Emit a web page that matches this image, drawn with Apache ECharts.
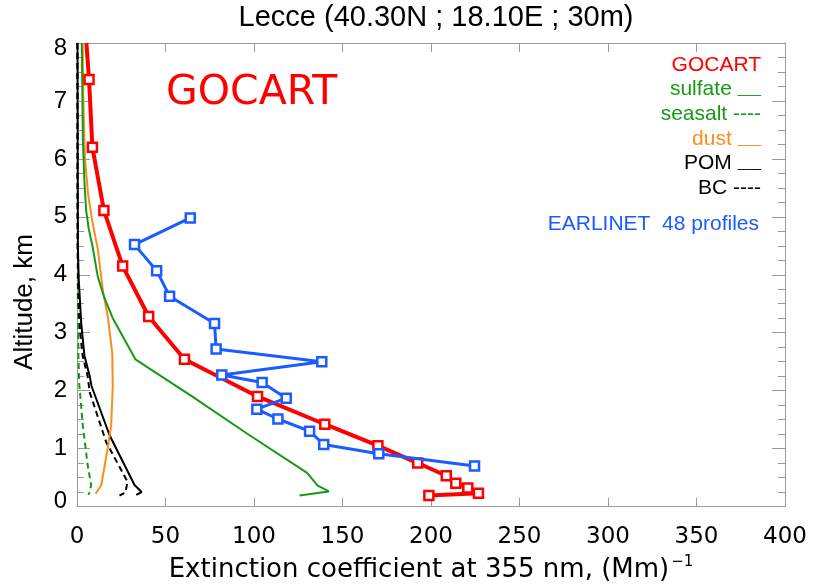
<!DOCTYPE html>
<html>
<head>
<meta charset="utf-8">
<script src="https://cdn.jsdelivr.net/npm/echarts/dist/echarts.min.js"></script>
<style>
  html, body { margin: 0; padding: 0; background: #fff; }
  #chart { width: 814px; height: 588px; }
</style>
</head>
<body>
<div id="chart"></div>
<script>
// Extinction profiles over Lecce: GOCART model (total + components) vs EARLINET mean profile.
// Altitudes in km, extinction in Mm^-1.

const xTicks = [0, 50, 100, 150, 200, 250, 300, 350, 400];
const yTicks = [0, 1, 2, 3, 4, 5, 6, 7, 8];

const gocartAlt = [8.0, 7.37, 6.2, 5.11, 4.15, 3.28, 2.54, 1.9, 1.42, 1.05, 0.75, 0.53, 0.40, 0.32, 0.23, 0.19];
const gocartExt = [5.3, 6.8, 8.7, 15.2, 25.8, 40.5, 60.7, 102, 140, 170, 192.5, 208.6, 214, 220.8, 226.8, 198.8];

const earlinetAlt = [4.98, 4.52, 4.07, 3.63, 3.16, 2.72, 2.50, 2.27, 2.14, 1.87, 1.68, 1.51, 1.30, 1.07, 0.91, 0.70];
const earlinetExt = [64, 32.5, 45, 52.3, 77.7, 78.6, 138.3, 81.8, 104.6, 118.2, 101.6, 113.5, 131.4, 139.4, 170.5, 224.6];

const sulfateAlt = [8.0, 7.2, 6.35, 5.6, 5.1, 4.8, 4.47, 3.96, 3.6, 3.25, 2.54, 1.9, 1.26, 0.58, 0.36, 0.26, 0.19];
const sulfateExt = [2.7, 3.0, 3.3, 4.2, 5.2, 6.6, 8.9, 11.8, 15.5, 20.2, 33, 65, 96, 130, 136, 142.3, 125.7];

const seasaltAlt = [8.0, 5.0, 3.5, 2.6, 2.1, 1.4, 0.72, 0.37, 0.24, 0.2];
const seasaltExt = [0.2, 0.3, 0.5, 0.8, 1.3, 3.3, 6.0, 8.0, 7.0, 6.4];

const dustAlt = [8.0, 7.0, 6.06, 5.4, 4.93, 4.45, 3.73, 3.28, 2.65, 2.08, 1.4, 1.0, 0.37, 0.22];
const dustExt = [3.2, 3.6, 4.4, 6.2, 8.6, 11.7, 14.6, 17.4, 19.9, 20.2, 19.3, 17.3, 13.7, 10.5];

const pomAlt = [8.0, 6.0, 4.47, 3.9, 3.16, 2.6, 2.25, 2.08, 1.23, 0.37, 0.25, 0.2];
const pomExt = [0.3, 0.4, 0.5, 1.0, 2.4, 4.2, 7.2, 8.2, 18.4, 32.5, 36.5, 33.5];

const bcAlt = [8.0, 6.0, 4.5, 3.6, 3.0, 2.6, 2.25, 1.97, 1.11, 0.43, 0.24, 0.19];
const bcExt = [0.2, 0.3, 0.4, 0.8, 1.8, 3.2, 6.0, 7.2, 16.5, 28.5, 27.4, 24];

// legend rows: label, line sample, colour
const legendLines = [
  { label: 'GOCART', sample: '', color: '#ff0000' },
  { label: 'sulfate', sample: '___', color: '#169a16' },
  { label: 'seasalt', sample: '----', color: '#169a16' },
  { label: 'dust', sample: '___', color: '#ff8a1c' },
  { label: 'POM', sample: '___', color: '#000000' },
  { label: 'BC', sample: '----', color: '#000000' }
];

const RED = '#ff0000', GREEN = '#169a16', ORANGE = '#ff8a1c', BLUE = '#1a5cff', AXIS = '#9a9a9a';
const FONT = 'Liberation Sans, Arial, sans-serif';
const FONT2 = 'DejaVu Sans, sans-serif';

function pairs(xs, ys) { return xs.map((x, i) => [x, ys[i]]); }

function plainLine(name, xs, ys, color, width, dashed) {
  return {
    name: name, type: 'line', data: pairs(xs, ys), symbol: 'none', smooth: false,
    lineStyle: { color: color, width: width, type: dashed ? [6, 4] : 'solid' },
    animation: false, z: 2
  };
}

const gocartData = pairs(gocartExt, gocartAlt).map((p, i) =>
  i === 0 ? { value: p, symbol: 'none' } : p);

const chart = echarts.init(document.getElementById('chart'), null, { renderer: 'canvas' });

const tickLine = { color: AXIS, width: 1 };

function legendText(l, i) {
  const isHead = l.sample === '';
  const text = isHead ? '{h|' + l.label + '}'
    : (l.sample === '___' ? '{t|' + l.label + ' }{u|' + l.sample + '}'
                          : '{t|' + l.label + ' ' + l.sample + '}');
  return {
    type: 'text', x: 761, y: 65 + i * 24.6,
    style: {
      text: text, fill: l.color, align: 'right', verticalAlign: 'middle',
      textAlign: 'right', textVerticalAlign: 'middle',
      rich: {
        h: { fontSize: 21, fontFamily: FONT, fill: l.color, color: l.color },
        t: { fontSize: 21, fontFamily: FONT, fill: l.color, color: l.color },
        u: { fontSize: 14, fontFamily: FONT, fill: l.color, color: l.color }
      }
    }
  };
}

const option = {
  backgroundColor: '#ffffff',
  animation: false,
  grid: { left: 77, right: 29, top: 43, bottom: 76, show: false },
  xAxis: [
    {
      type: 'value', min: xTicks[0], max: xTicks[xTicks.length - 1], interval: 50, position: 'bottom',
      axisLine: { show: true, onZero: false, lineStyle: tickLine },
      axisTick: { show: true, inside: true, length: 9, lineStyle: tickLine },
      splitLine: { show: false },
      axisLabel: { color: '#000', fontSize: 23, fontFamily: FONT2, margin: 19 },
      name: '{a|Extinction coefficient at 355 nm, (Mm)}{b|−1}',
      nameLocation: 'middle', nameGap: 48,
      nameTextStyle: {
        rich: {
          a: { fontSize: 26, fontFamily: FONT2, color: '#000' },
          b: { fontSize: 15, fontFamily: FONT2, color: '#000', padding: [0, 0, 16, 2] }
        }
      }
    },
    {
      type: 'value', min: 0, max: 400, interval: 50, position: 'top',
      axisLine: { show: true, onZero: false, lineStyle: tickLine },
      axisTick: { show: true, inside: true, length: 9, lineStyle: tickLine },
      splitLine: { show: false }, axisLabel: { show: false }
    }
  ],
  yAxis: [
    {
      type: 'value', min: yTicks[0], max: yTicks[yTicks.length - 1], interval: 1, position: 'left',
      axisLine: { show: true, onZero: false, lineStyle: tickLine },
      axisTick: { show: true, inside: true, length: 13, lineStyle: tickLine },
      minorTick: { show: true, splitNumber: 4, length: 7, lineStyle: tickLine },
      splitLine: { show: false }, minorSplitLine: { show: false },
      axisLabel: {
        color: '#000', fontSize: 24, fontFamily: FONT, margin: 10,
        formatter: function (v) {
          if (v === 0) return '{lo|0}';
          if (v === 8) return '{hi|8}';
          return String(v);
        },
        rich: {
          lo: { fontSize: 24, fontFamily: FONT, color: '#000', padding: [0, 0, 10, 0] },
          hi: { fontSize: 24, fontFamily: FONT, color: '#000', padding: [10, 0, 0, 0] }
        }
      }
    },
    {
      type: 'value', min: 0, max: 8, interval: 1, position: 'right',
      axisLine: { show: true, onZero: false, lineStyle: tickLine },
      axisTick: { show: true, inside: true, length: 13, lineStyle: tickLine },
      minorTick: { show: true, splitNumber: 4, length: 7, lineStyle: tickLine },
      splitLine: { show: false }, axisLabel: { show: false }
    }
  ],
  graphic: [
    {
      type: 'text', x: 436, y: 18,
      style: { text: 'Lecce (40.30N ; 18.10E ; 30m)', fill: '#000', font: '29px ' + FONT,
               align: 'center', verticalAlign: 'middle', textAlign: 'center', textVerticalAlign: 'middle' }
    },
    {
      type: 'text', x: 25, y: 302, rotation: Math.PI / 2,
      style: { text: 'Altitude, km', fill: '#000', font: '26px ' + FONT,
               align: 'center', verticalAlign: 'middle', textAlign: 'center', textVerticalAlign: 'middle' }
    },
    {
      type: 'text', x: 166, y: 93,
      style: { text: 'GOCART', fill: RED, font: '41px DejaVu Sans, sans-serif',
               align: 'left', verticalAlign: 'middle', textAlign: 'left', textVerticalAlign: 'middle' }
    }
  ].concat(legendLines.map(legendText)).concat([{
    type: 'text', x: 759, y: 224,
    style: { text: 'EARLINET  48 profiles', fill: BLUE, font: '21px ' + FONT,
             align: 'right', verticalAlign: 'middle', textAlign: 'right', textVerticalAlign: 'middle' }
  }]),
  series: [
    plainLine('seasalt', seasaltExt, seasaltAlt, GREEN, 2, true),
    plainLine('BC', bcExt, bcAlt, '#000', 2, true),
    plainLine('POM', pomExt, pomAlt, '#000', 2, false),
    plainLine('dust', dustExt, dustAlt, ORANGE, 2, false),
    plainLine('sulfate', sulfateExt, sulfateAlt, GREEN, 2, false),
    {
      name: 'GOCART', type: 'line', data: gocartData, z: 3,
      symbol: 'rect', symbolSize: 9, showAllSymbol: true,
      lineStyle: { color: RED, width: 4 },
      itemStyle: { color: '#ffffff', borderColor: RED, borderWidth: 2.5 },
      animation: false
    },
    {
      name: 'EARLINET', type: 'line', data: pairs(earlinetExt, earlinetAlt), z: 4,
      symbol: 'rect', symbolSize: 9, showAllSymbol: true,
      lineStyle: { color: BLUE, width: 3 },
      itemStyle: { color: '#ffffff', borderColor: BLUE, borderWidth: 2.5 },
      animation: false
    }
  ]
};

chart.setOption(option);
</script>
</body>
</html>
